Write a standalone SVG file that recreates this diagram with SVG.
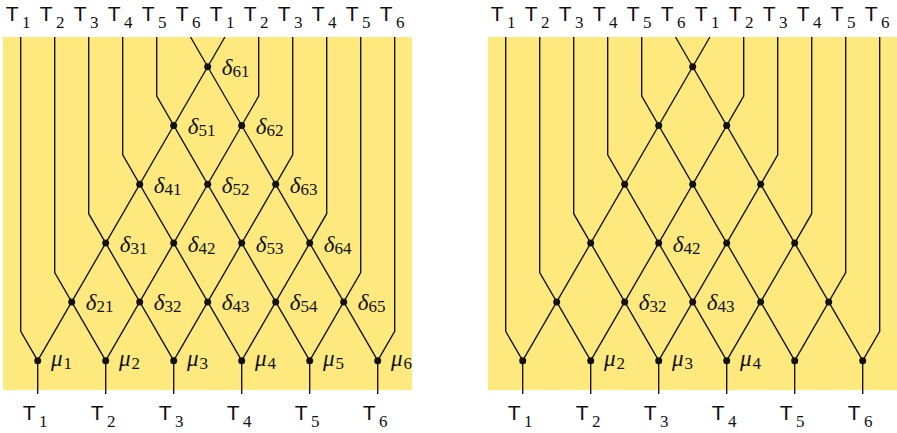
<svg xmlns="http://www.w3.org/2000/svg" width="897" height="433" viewBox="0 0 897 433">
<style>
.bg{fill:#FEE97E}
.ln{fill:none;stroke:#111;stroke-width:1.35}
.dot{fill:#111}
.T{font-family:"Liberation Sans",Arial,sans-serif;font-size:21px;fill:#111}
.m{font-family:"Liberation Serif","DejaVu Serif",serif;font-style:italic;font-size:23px;fill:#111}
.s{font-family:"Liberation Serif","DejaVu Serif",serif;font-style:normal;font-size:17px}
</style>
<defs>
<circle id="dt" r="3.5" class="dot"/>
</defs>

<g id="left">
<rect class="bg" x="3" y="37" width="409" height="353"/>
<g id="L-top-labels" class="T">
<text x="5.7" y="20.7">T<tspan class="s" dx="3.5" dy="7">1</tspan></text>
<text x="39.7" y="20.7">T<tspan class="s" dx="3.5" dy="7">2</tspan></text>
<text x="73.7" y="20.7">T<tspan class="s" dx="3.5" dy="7">3</tspan></text>
<text x="107.7" y="20.7">T<tspan class="s" dx="3.5" dy="7">4</tspan></text>
<text x="141.7" y="20.7">T<tspan class="s" dx="3.5" dy="7">5</tspan></text>
<text x="175.7" y="20.7">T<tspan class="s" dx="3.5" dy="7">6</tspan></text>
<text x="209.7" y="20.7">T<tspan class="s" dx="3.5" dy="7">1</tspan></text>
<text x="243.7" y="20.7">T<tspan class="s" dx="3.5" dy="7">2</tspan></text>
<text x="277.7" y="20.7">T<tspan class="s" dx="3.5" dy="7">3</tspan></text>
<text x="311.7" y="20.7">T<tspan class="s" dx="3.5" dy="7">4</tspan></text>
<text x="345.7" y="20.7">T<tspan class="s" dx="3.5" dy="7">5</tspan></text>
<text x="379.7" y="20.7">T<tspan class="s" dx="3.5" dy="7">6</tspan></text>
</g>
<g id="L-bottom-labels" class="T">
<text x="22.7" y="420">T<tspan class="s" dx="3.5" dy="7">1</tspan></text>
<text x="90.7" y="420">T<tspan class="s" dx="3.5" dy="7">2</tspan></text>
<text x="158.7" y="420">T<tspan class="s" dx="3.5" dy="7">3</tspan></text>
<text x="226.7" y="420">T<tspan class="s" dx="3.5" dy="7">4</tspan></text>
<text x="294.7" y="420">T<tspan class="s" dx="3.5" dy="7">5</tspan></text>
<text x="362.7" y="420">T<tspan class="s" dx="3.5" dy="7">6</tspan></text>
</g>
<g id="L-connectors" class="ln">
<path d="M20.7,37V331.3L37.7,360.7"/>
<path d="M54.7,37V272.5L105.7,360.7"/>
<path d="M88.7,37V213.7L173.7,360.7"/>
<path d="M122.7,37V154.9L241.7,360.7"/>
<path d="M156.7,37V96.1L309.7,360.7"/>
<path d="M190.5,37L377.7,360.7"/>
<path d="M224.9,37L37.7,360.7"/>
<path d="M258.7,37V96.1L105.7,360.7"/>
<path d="M292.7,37V154.9L173.7,360.7"/>
<path d="M326.7,37V213.7L241.7,360.7"/>
<path d="M360.7,37V272.5L309.7,360.7"/>
<path d="M394.7,37V331.3L377.7,360.7"/>
<path d="M37.7,360.7V394M105.7,360.7V394M173.7,360.7V394M241.7,360.7V394M309.7,360.7V394M377.7,360.7V394"/>
</g>
<g id="L-d61"><use href="#dt" x="207.7" y="66.7"/><text class="m" x="221.7" y="75.2">δ<tspan class="s" dy="2">61</tspan></text></g>
<g id="L-d51"><use href="#dt" x="173.7" y="125.5"/><text class="m" x="187.7" y="134">δ<tspan class="s" dy="2">51</tspan></text></g>
<g id="L-d62"><use href="#dt" x="241.7" y="125.5"/><text class="m" x="255.7" y="134">δ<tspan class="s" dy="2">62</tspan></text></g>
<g id="L-d41"><use href="#dt" x="139.7" y="184.3"/><text class="m" x="153.7" y="192.8">δ<tspan class="s" dy="2">41</tspan></text></g>
<g id="L-d52"><use href="#dt" x="207.7" y="184.3"/><text class="m" x="221.7" y="192.8">δ<tspan class="s" dy="2">52</tspan></text></g>
<g id="L-d63"><use href="#dt" x="275.7" y="184.3"/><text class="m" x="289.7" y="192.8">δ<tspan class="s" dy="2">63</tspan></text></g>
<g id="L-d31"><use href="#dt" x="105.7" y="243.1"/><text class="m" x="119.7" y="251.6">δ<tspan class="s" dy="2">31</tspan></text></g>
<g id="L-d42"><use href="#dt" x="173.7" y="243.1"/><text class="m" x="187.7" y="251.6">δ<tspan class="s" dy="2">42</tspan></text></g>
<g id="L-d53"><use href="#dt" x="241.7" y="243.1"/><text class="m" x="255.7" y="251.6">δ<tspan class="s" dy="2">53</tspan></text></g>
<g id="L-d64"><use href="#dt" x="309.7" y="243.1"/><text class="m" x="323.7" y="251.6">δ<tspan class="s" dy="2">64</tspan></text></g>
<g id="L-d21"><use href="#dt" x="71.7" y="301.9"/><text class="m" x="85.7" y="310.4">δ<tspan class="s" dy="2">21</tspan></text></g>
<g id="L-d32"><use href="#dt" x="139.7" y="301.9"/><text class="m" x="153.7" y="310.4">δ<tspan class="s" dy="2">32</tspan></text></g>
<g id="L-d43"><use href="#dt" x="207.7" y="301.9"/><text class="m" x="221.7" y="310.4">δ<tspan class="s" dy="2">43</tspan></text></g>
<g id="L-d54"><use href="#dt" x="275.7" y="301.9"/><text class="m" x="289.7" y="310.4">δ<tspan class="s" dy="2">54</tspan></text></g>
<g id="L-d65"><use href="#dt" x="343.7" y="301.9"/><text class="m" x="357.7" y="310.4">δ<tspan class="s" dy="2">65</tspan></text></g>
<g id="L-mu1"><use href="#dt" x="37.7" y="360.7"/><text class="m" x="51" y="366">μ<tspan class="s" dx="1" dy="2.5">1</tspan></text></g>
<g id="L-mu2"><use href="#dt" x="105.7" y="360.7"/><text class="m" x="119" y="366">μ<tspan class="s" dx="1" dy="2.5">2</tspan></text></g>
<g id="L-mu3"><use href="#dt" x="173.7" y="360.7"/><text class="m" x="187" y="366">μ<tspan class="s" dx="1" dy="2.5">3</tspan></text></g>
<g id="L-mu4"><use href="#dt" x="241.7" y="360.7"/><text class="m" x="255" y="366">μ<tspan class="s" dx="1" dy="2.5">4</tspan></text></g>
<g id="L-mu5"><use href="#dt" x="309.7" y="360.7"/><text class="m" x="323" y="366">μ<tspan class="s" dx="1" dy="2.5">5</tspan></text></g>
<g id="L-mu6"><use href="#dt" x="377.7" y="360.7"/><text class="m" x="391" y="366">μ<tspan class="s" dx="1" dy="2.5">6</tspan></text></g>
</g>

<g id="right" transform="translate(485,0)">
<rect class="bg" x="3" y="37" width="409" height="353"/>
<g id="R-top-labels" class="T">
<text x="5.7" y="20.7">T<tspan class="s" dx="3.5" dy="7">1</tspan></text>
<text x="39.7" y="20.7">T<tspan class="s" dx="3.5" dy="7">2</tspan></text>
<text x="73.7" y="20.7">T<tspan class="s" dx="3.5" dy="7">3</tspan></text>
<text x="107.7" y="20.7">T<tspan class="s" dx="3.5" dy="7">4</tspan></text>
<text x="141.7" y="20.7">T<tspan class="s" dx="3.5" dy="7">5</tspan></text>
<text x="175.7" y="20.7">T<tspan class="s" dx="3.5" dy="7">6</tspan></text>
<text x="209.7" y="20.7">T<tspan class="s" dx="3.5" dy="7">1</tspan></text>
<text x="243.7" y="20.7">T<tspan class="s" dx="3.5" dy="7">2</tspan></text>
<text x="277.7" y="20.7">T<tspan class="s" dx="3.5" dy="7">3</tspan></text>
<text x="311.7" y="20.7">T<tspan class="s" dx="3.5" dy="7">4</tspan></text>
<text x="345.7" y="20.7">T<tspan class="s" dx="3.5" dy="7">5</tspan></text>
<text x="379.7" y="20.7">T<tspan class="s" dx="3.5" dy="7">6</tspan></text>
</g>
<g id="R-bottom-labels" class="T">
<text x="22.7" y="420">T<tspan class="s" dx="3.5" dy="7">1</tspan></text>
<text x="90.7" y="420">T<tspan class="s" dx="3.5" dy="7">2</tspan></text>
<text x="158.7" y="420">T<tspan class="s" dx="3.5" dy="7">3</tspan></text>
<text x="226.7" y="420">T<tspan class="s" dx="3.5" dy="7">4</tspan></text>
<text x="294.7" y="420">T<tspan class="s" dx="3.5" dy="7">5</tspan></text>
<text x="362.7" y="420">T<tspan class="s" dx="3.5" dy="7">6</tspan></text>
</g>
<g id="R-connectors" class="ln">
<path d="M20.7,37V331.3L37.7,360.7"/>
<path d="M54.7,37V272.5L105.7,360.7"/>
<path d="M88.7,37V213.7L173.7,360.7"/>
<path d="M122.7,37V154.9L241.7,360.7"/>
<path d="M156.7,37V96.1L309.7,360.7"/>
<path d="M190.5,37L377.7,360.7"/>
<path d="M224.9,37L37.7,360.7"/>
<path d="M258.7,37V96.1L105.7,360.7"/>
<path d="M292.7,37V154.9L173.7,360.7"/>
<path d="M326.7,37V213.7L241.7,360.7"/>
<path d="M360.7,37V272.5L309.7,360.7"/>
<path d="M394.7,37V331.3L377.7,360.7"/>
<path d="M37.7,360.7V394M105.7,360.7V394M173.7,360.7V394M241.7,360.7V394M309.7,360.7V394M377.7,360.7V394"/>
</g>
<g id="R-d61"><use href="#dt" x="207.7" y="66.7"/></g>
<g id="R-d51"><use href="#dt" x="173.7" y="125.5"/></g>
<g id="R-d62"><use href="#dt" x="241.7" y="125.5"/></g>
<g id="R-d41"><use href="#dt" x="139.7" y="184.3"/></g>
<g id="R-d52"><use href="#dt" x="207.7" y="184.3"/></g>
<g id="R-d63"><use href="#dt" x="275.7" y="184.3"/></g>
<g id="R-d31"><use href="#dt" x="105.7" y="243.1"/></g>
<g id="R-d42"><use href="#dt" x="173.7" y="243.1"/><text class="m" x="187.7" y="251.6">δ<tspan class="s" dy="2">42</tspan></text></g>
<g id="R-d53"><use href="#dt" x="241.7" y="243.1"/></g>
<g id="R-d64"><use href="#dt" x="309.7" y="243.1"/></g>
<g id="R-d21"><use href="#dt" x="71.7" y="301.9"/></g>
<g id="R-d32"><use href="#dt" x="139.7" y="301.9"/><text class="m" x="153.7" y="310.4">δ<tspan class="s" dy="2">32</tspan></text></g>
<g id="R-d43"><use href="#dt" x="207.7" y="301.9"/><text class="m" x="221.7" y="310.4">δ<tspan class="s" dy="2">43</tspan></text></g>
<g id="R-d54"><use href="#dt" x="275.7" y="301.9"/></g>
<g id="R-d65"><use href="#dt" x="343.7" y="301.9"/></g>
<g id="R-mu1"><use href="#dt" x="37.7" y="360.7"/></g>
<g id="R-mu2"><use href="#dt" x="105.7" y="360.7"/><text class="m" x="119" y="366">μ<tspan class="s" dx="1" dy="2.5">2</tspan></text></g>
<g id="R-mu3"><use href="#dt" x="173.7" y="360.7"/><text class="m" x="187" y="366">μ<tspan class="s" dx="1" dy="2.5">3</tspan></text></g>
<g id="R-mu4"><use href="#dt" x="241.7" y="360.7"/><text class="m" x="255" y="366">μ<tspan class="s" dx="1" dy="2.5">4</tspan></text></g>
<g id="R-mu5"><use href="#dt" x="309.7" y="360.7"/></g>
<g id="R-mu6"><use href="#dt" x="377.7" y="360.7"/></g>
</g>
</svg>
